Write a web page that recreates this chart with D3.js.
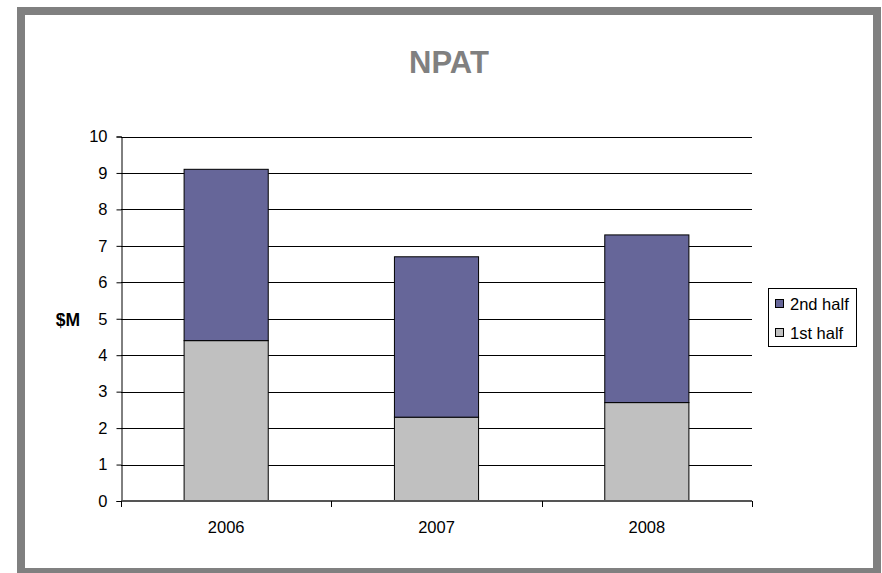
<!DOCTYPE html>
<html>
<head>
<meta charset="utf-8">
<script src="https://cdn.jsdelivr.net/npm/d3@7"></script>
<style>
  html, body { margin: 0; padding: 0; background: #ffffff; }
  svg { display: block; font-family: "Liberation Sans", Arial, Helvetica, sans-serif; }
</style>
</head>
<body>
<svg id="chart" width="882" height="573"></svg>
<script>
// NPAT by year, split into first and second half ($M)
const years = ["2006", "2007", "2008"];
const firstHalf = [4.4, 2.3, 2.7];
const secondHalf = [4.7, 4.4, 4.6];
const seriesNames = ["1st half", "2nd half"];
const seriesColors = ["#C0C0C0", "#666699"];
const yTicks = [0, 1, 2, 3, 4, 5, 6, 7, 8, 9, 10];

const svg = d3.select("#chart");

// outer frame
svg.append("rect")
  .attr("x", 21).attr("y", 11)
  .attr("width", 856).attr("height", 561)
  .attr("fill", "#ffffff")
  .attr("stroke", "#808080")
  .attr("stroke-width", 8);

// title
svg.append("text")
  .attr("x", 449).attr("y", 73)
  .attr("text-anchor", "middle")
  .attr("font-size", 31).attr("font-weight", "bold")
  .attr("fill", "#808080")
  .text("NPAT");

const plot = { left: 121, right: 752, top: 136.5, bottom: 501 };

const x = d3.scaleBand()
  .domain(years)
  .range([plot.left, plot.right])
  .paddingInner(0.6)
  .paddingOuter(0.3);

const y = d3.scaleLinear()
  .domain([0, 10])
  .range([plot.bottom, plot.top]);

// horizontal gridlines
svg.append("g")
  .selectAll("line")
  .data(yTicks.filter(d => d > 0))
  .join("line")
  .attr("x1", plot.left).attr("x2", plot.right)
  .attr("y1", d => Math.round(y(d)) + 0.5)
  .attr("y2", d => Math.round(y(d)) + 0.5)
  .attr("stroke", "#000000")
  .attr("stroke-width", 1);

// stacked bars
const rows = years.map((yr, i) => ({ year: yr, "1st half": firstHalf[i], "2nd half": secondHalf[i] }));
const stacked = d3.stack().keys(seriesNames)(rows);

svg.append("g")
  .selectAll("g")
  .data(stacked)
  .join("g")
  .attr("fill", (d, i) => seriesColors[i])
  .selectAll("rect")
  .data(d => d)
  .join("rect")
  .attr("x", d => x(d.data.year))
  .attr("width", x.bandwidth())
  .attr("y", d => y(d[1]))
  .attr("height", d => y(d[0]) - y(d[1]))
  .attr("stroke", "#000000")
  .attr("stroke-width", 1);

// y axis
const yAxis = d3.axisLeft(y).tickValues(yTicks).tickSize(5).tickPadding(9).tickFormat(d3.format("d"));
const gy = svg.append("g")
  .attr("transform", `translate(${plot.left + 0.5},0)`)
  .call(yAxis);
gy.select(".domain").attr("stroke", "#000000");
gy.selectAll(".tick line").attr("stroke", "#000000");
gy.selectAll(".tick text")
  .attr("font-size", 16.5)
  .attr("font-family", "Liberation Sans, Arial, sans-serif")
  .attr("fill", "#000000");

// x axis: ticks at category boundaries
const boundaries = [plot.left].concat(years.map(yr => x(yr) + x.bandwidth() + x.step() * x.paddingInner() / 2));
boundaries[boundaries.length - 1] = plot.right;
const gx = svg.append("g");
gx.append("line")
  .attr("x1", plot.left).attr("x2", plot.right)
  .attr("y1", plot.bottom).attr("y2", plot.bottom)
  .attr("stroke", "#555555").attr("stroke-width", 2);
gx.selectAll("line.tick")
  .data(boundaries)
  .join("line")
  .attr("class", "tick")
  .attr("x1", d => Math.round(d) + 0.5).attr("x2", d => Math.round(d) + 0.5)
  .attr("y1", plot.bottom).attr("y2", plot.bottom + 6)
  .attr("stroke", "#000000");
gx.selectAll("text")
  .data(years)
  .join("text")
  .attr("x", d => x(d) + x.bandwidth() / 2)
  .attr("y", 533)
  .attr("text-anchor", "middle")
  .attr("font-size", 16.5)
  .attr("fill", "#000000")
  .text(d => d);

// y axis title
svg.append("text")
  .attr("x", 68).attr("y", 326)
  .attr("text-anchor", "middle")
  .attr("font-size", 17.5).attr("font-weight", "bold")
  .attr("fill", "#000000")
  .text("$M");

// legend (2nd half listed first, matching stack order top to bottom)
const legend = svg.append("g");
legend.append("rect")
  .attr("x", 768.5).attr("y", 288.5)
  .attr("width", 88).attr("height", 58)
  .attr("fill", "#ffffff")
  .attr("stroke", "#000000");
const legendItems = [
  { name: seriesNames[1], color: seriesColors[1] },
  { name: seriesNames[0], color: seriesColors[0] }
];
const li = legend.selectAll("g.item")
  .data(legendItems)
  .join("g")
  .attr("class", "item")
  .attr("transform", (d, i) => `translate(0,${i * 29})`);
li.append("rect")
  .attr("x", 775.5).attr("y", 299.5)
  .attr("width", 8).attr("height", 8)
  .attr("fill", d => d.color)
  .attr("stroke", "#000000");
li.append("text")
  .attr("x", 790).attr("y", 309.5)
  .attr("font-size", 16.5)
  .attr("fill", "#000000")
  .text(d => d.name);
</script>
</body>
</html>
